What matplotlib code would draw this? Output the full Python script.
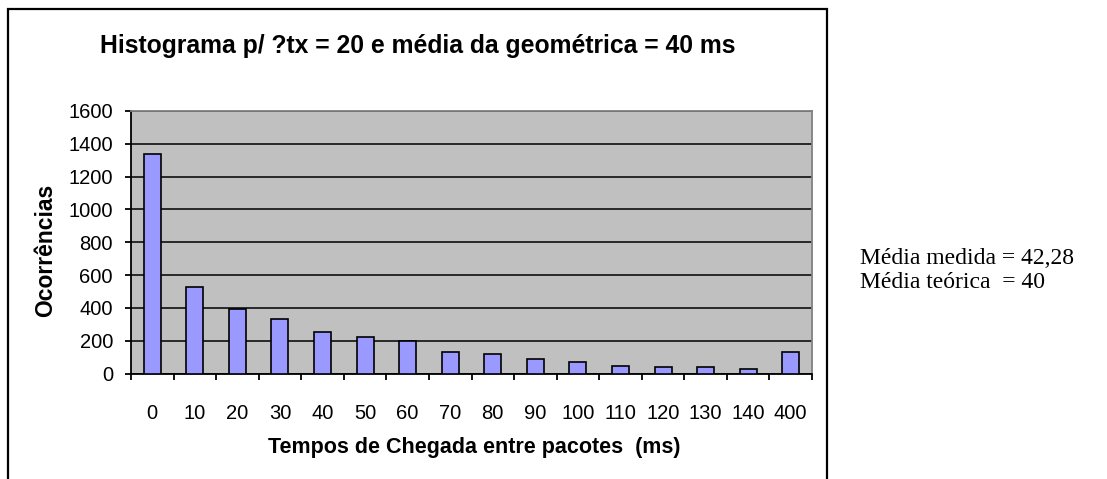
import matplotlib.pyplot as plt
from matplotlib.patches import Rectangle

# intervalos de chegada (ms) e numero de ocorrencias em cada classe
categorias = ["0", "10", "20", "30", "40", "50", "60", "70",
              "80", "90", "100", "110", "120", "130", "140", "400"]
ocorrencias = [1340, 525, 392, 331, 254, 220, 196, 132,
               120, 87, 73, 46, 37, 37, 26, 132]

media_medida = "42,28"
media_teorica = "40"

W, H = 1107, 479
fig = plt.figure(figsize=(W / 100, H / 100), dpi=100)
fig.patch.set_facecolor("white")

# moldura do grafico (a base fica fora da imagem)
fig.add_artist(Rectangle((8 / W, -0.05), (827 - 8) / W, 1.05 - 9 / H,
                         transform=fig.transFigure, fill=False,
                         edgecolor="black", linewidth=1.6))

ax = fig.add_axes([131 / W, 1 - 373.5 / H, (812 - 131) / W, (373.5 - 111) / H])
ax.set_facecolor("#C0C0C0")

x = list(range(len(categorias)))
ax.bar(x, ocorrencias, width=0.4, color="#9999FF",
       edgecolor="black", linewidth=1.2, zorder=3)

ax.set_xlim(-0.5, len(categorias) - 0.5)
ax.set_ylim(0, 1600)
ax.set_yticks(range(0, 1601, 200))
ax.yaxis.grid(True, color="black", linewidth=1.1, zorder=1)
ax.set_axisbelow(True)

# marcas do eixo x nas fronteiras das classes, rotulos no centro
ax.set_xticks([i - 0.5 for i in range(len(categorias) + 1)])
ax.set_xticklabels([])
ax.set_xticks(x, minor=True)
ax.set_xticklabels(categorias, minor=True)
ax.tick_params(axis="x", which="minor", length=0, pad=22)
ax.tick_params(axis="x", which="major", direction="out", length=4.5,
               width=1.3, color="black")
ax.tick_params(axis="y", direction="out", length=4.5, width=1.3, pad=8.5)

for lbl in ax.get_xticklabels(minor=True) + ax.get_yticklabels():
    lbl.set_fontfamily("Liberation Sans")
    lbl.set_fontsize(14.5)

for s in ["left", "bottom"]:
    ax.spines[s].set_color("black")
    ax.spines[s].set_linewidth(1.3)
for s in ["top", "right"]:
    ax.spines[s].set_color("#808080")
    ax.spines[s].set_linewidth(1.3)

fig.text(418 / W, 1 - 46 / H, "Histograma p/ ?tx = 20 e média da geométrica = 40 ms",
         ha="center", va="center", fontsize=17.8, fontweight="bold",
         family="Liberation Sans")
fig.text(474 / W, 1 - 447 / H, "Tempos de Chegada entre pacotes  (ms)",
         ha="center", va="center", fontsize=15.5, fontweight="bold",
         family="Liberation Sans")
fig.text(46 / W, 1 - 250 / H, "Ocorrências", rotation=90,
         ha="center", va="center", fontsize=16.5, fontweight="bold",
         family="Liberation Sans")

fig.text(860 / W, 1 - 264 / H, "Média medida = " + media_medida,
         ha="left", va="baseline", fontsize=17, family="Liberation Serif")
fig.text(860 / W, 1 - 288 / H, "Média teórica  = " + media_teorica,
         ha="left", va="baseline", fontsize=17, family="Liberation Serif")

fig.savefig("out.png", dpi=100)
